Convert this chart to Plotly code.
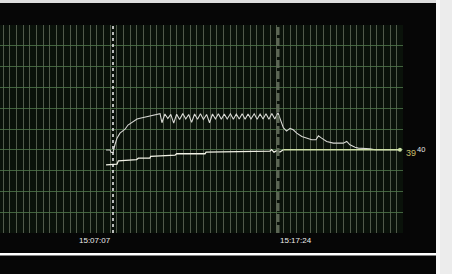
import plotly.graph_objects as go

# ---- data (time in seconds after 15:00:00, values in degrees) ----
tick_times = [427, 1044]
tick_labels = ["15:07:07", "15:17:24"]

upper_t = [401, 416, 420, 427, 434, 442, 453, 472, 483, 502, 517, 528, 554, 573, 591, 603,
           610, 621, 632, 643, 654, 665, 676, 688, 699, 710, 721, 732, 743, 754, 765, 777,
           788, 799, 810, 821, 832, 843, 854, 866, 877, 888, 899, 910, 921, 932, 943, 955,
           966, 977, 988, 999, 1010, 1021, 1032, 1044,
           1051, 1064, 1076, 1089, 1101, 1114, 1133, 1151, 1170, 1186, 1195, 1207, 1226,
           1251, 1288, 1301, 1313, 1332, 1344, 1388, 1407, 1500]
upper_v = [38.99, 38.99, 38.87, 38.87, 39.23, 39.56, 39.80, 39.99, 40.19, 40.36, 40.48, 40.52,
           40.60, 40.67, 40.74, 40.74,
           40.30, 40.72, 40.50, 40.70, 40.28, 40.71, 40.46, 40.74, 40.48, 40.70, 40.32, 40.72,
           40.47, 40.73, 40.46, 40.70, 40.30, 40.72, 40.48, 40.73, 40.47, 40.72, 40.48, 40.73,
           40.47, 40.72, 40.48, 40.73, 40.47, 40.72, 40.48, 40.73, 40.47, 40.72, 40.48, 40.73,
           40.47, 40.74, 40.48, 40.78,
           40.52, 40.06, 39.90, 40.03, 39.96, 39.80, 39.64, 39.56, 39.48, 39.48, 39.67, 39.56,
           39.40, 39.32, 39.32, 39.40, 39.24, 39.12, 39.08, 39.05, 39.00, 39.00]

lower_t = [401, 420, 442, 447, 515, 522, 565, 568, 659, 665, 771, 775, 1014, 1020, 1029, 1039, 1051, 1064]
lower_v = [38.28, 38.31, 38.31, 38.47, 38.53, 38.60, 38.60, 38.68, 38.74, 38.81, 38.81, 38.89,
           38.94, 39.01, 38.89, 38.96, 38.89, 39.00]

tail_t = [1064, 1500]
tail_v = [39.00, 39.00]

last_labels = ["39", "40"]

x_range = [4.45, 1511.4]
y_range = [35, 45]

W, H = 452, 274
L, R, T, B = 0, 49, 25, 41
pw, ph = W - L - R, H - T - B


def px(xp):
    return (xp - L) / pw


def py(yp):
    return (H - B - yp) / ph


fig = go.Figure()

fig.add_trace(go.Scatter(x=upper_t, y=upper_v, mode="lines",
                         line=dict(color="#d8d8d4", width=1.1), hoverinfo="skip"))
fig.add_trace(go.Scatter(x=lower_t, y=lower_v, mode="lines",
                         line=dict(color="#f2f2e6", width=1.3), hoverinfo="skip"))
fig.add_trace(go.Scatter(x=tail_t, y=tail_v, mode="lines",
                         line=dict(color="#cfe2a8", width=1.6), hoverinfo="skip"))
fig.add_trace(go.Scatter(x=[tail_t[-1]], y=[tail_v[-1]], mode="markers",
                         marker=dict(color="#cfe2a8", size=4), hoverinfo="skip"))

shapes = [
    # markers at the two labelled times
    dict(type="line", xref="x", yref="paper", x0=tick_times[0], x1=tick_times[0], y0=0, y1=1.01,
         line=dict(color="#f4f4f4", width=1.5, dash="dot")),
    dict(type="line", xref="x", yref="paper", x0=tick_times[1], x1=tick_times[1], y0=0, y1=1,
         line=dict(color="rgba(100,112,92,0.9)", width=3, dash="8px,3px")),
    # page decorations
    dict(type="rect", xref="paper", yref="paper", x0=-0.05, x1=px(W + 5), y0=py(3), y1=py(-5),
         fillcolor="#dedede", line=dict(width=0), layer="above"),
    dict(type="rect", xref="paper", yref="paper", x0=px(436), x1=px(W + 5), y0=py(H + 5), y1=py(-5),
         fillcolor="#ececec", line=dict(width=0), layer="above"),
    dict(type="rect", xref="paper", yref="paper", x0=px(436), x1=px(440), y0=py(H + 5), y1=py(-5),
         fillcolor="#fafafa", line=dict(width=0), layer="above"),
    dict(type="rect", xref="paper", yref="paper", x0=-0.05, x1=px(436), y0=py(255.5), y1=py(253),
         fillcolor="#ffffff", line=dict(width=0), layer="above"),
]

annotations = []
for i, (t, lab) in enumerate(zip(tick_times, tick_labels)):
    annotations.append(dict(x=t, y=py(240.5), xref="x", yref="paper", text=lab, showarrow=False,
                            xanchor="right" if i == 0 else "left", yanchor="middle",
                            font=dict(family="Liberation Sans, Arial", size=8, color="#ececec")))
annotations.append(dict(x=px(404), y=py(153), xref="paper", yref="paper", text=last_labels[0],
                        showarrow=False, xanchor="left", yanchor="middle",
                        font=dict(family="Liberation Sans, Arial", size=9, color="#c9bf6a")))
annotations.append(dict(x=px(415), y=py(149), xref="paper", yref="paper", text=last_labels[1],
                        showarrow=False, xanchor="left", yanchor="middle",
                        font=dict(family="Liberation Sans, Arial", size=7.5, color="#e4e4e4")))

fig.update_layout(
    width=W, height=H,
    margin=dict(l=L, r=R, t=T, b=B, pad=0),
    paper_bgcolor="#060606",
    plot_bgcolor="#0a120a",
    showlegend=False,
    shapes=shapes,
    annotations=annotations,
    xaxis=dict(range=x_range, showgrid=True, gridcolor="rgba(105,115,98,0.75)", gridwidth=1,
               tick0=16.8, dtick=24.94, showticklabels=False, ticks="", zeroline=False,
               showline=False, fixedrange=True),
    yaxis=dict(range=y_range, showgrid=True, gridcolor="rgba(80,120,75,0.8)", gridwidth=1,
               dtick=1, showticklabels=False, ticks="", zeroline=False, showline=False,
               fixedrange=True),
)

fig.write_html("out.html", config={"displayModeBar": False})
